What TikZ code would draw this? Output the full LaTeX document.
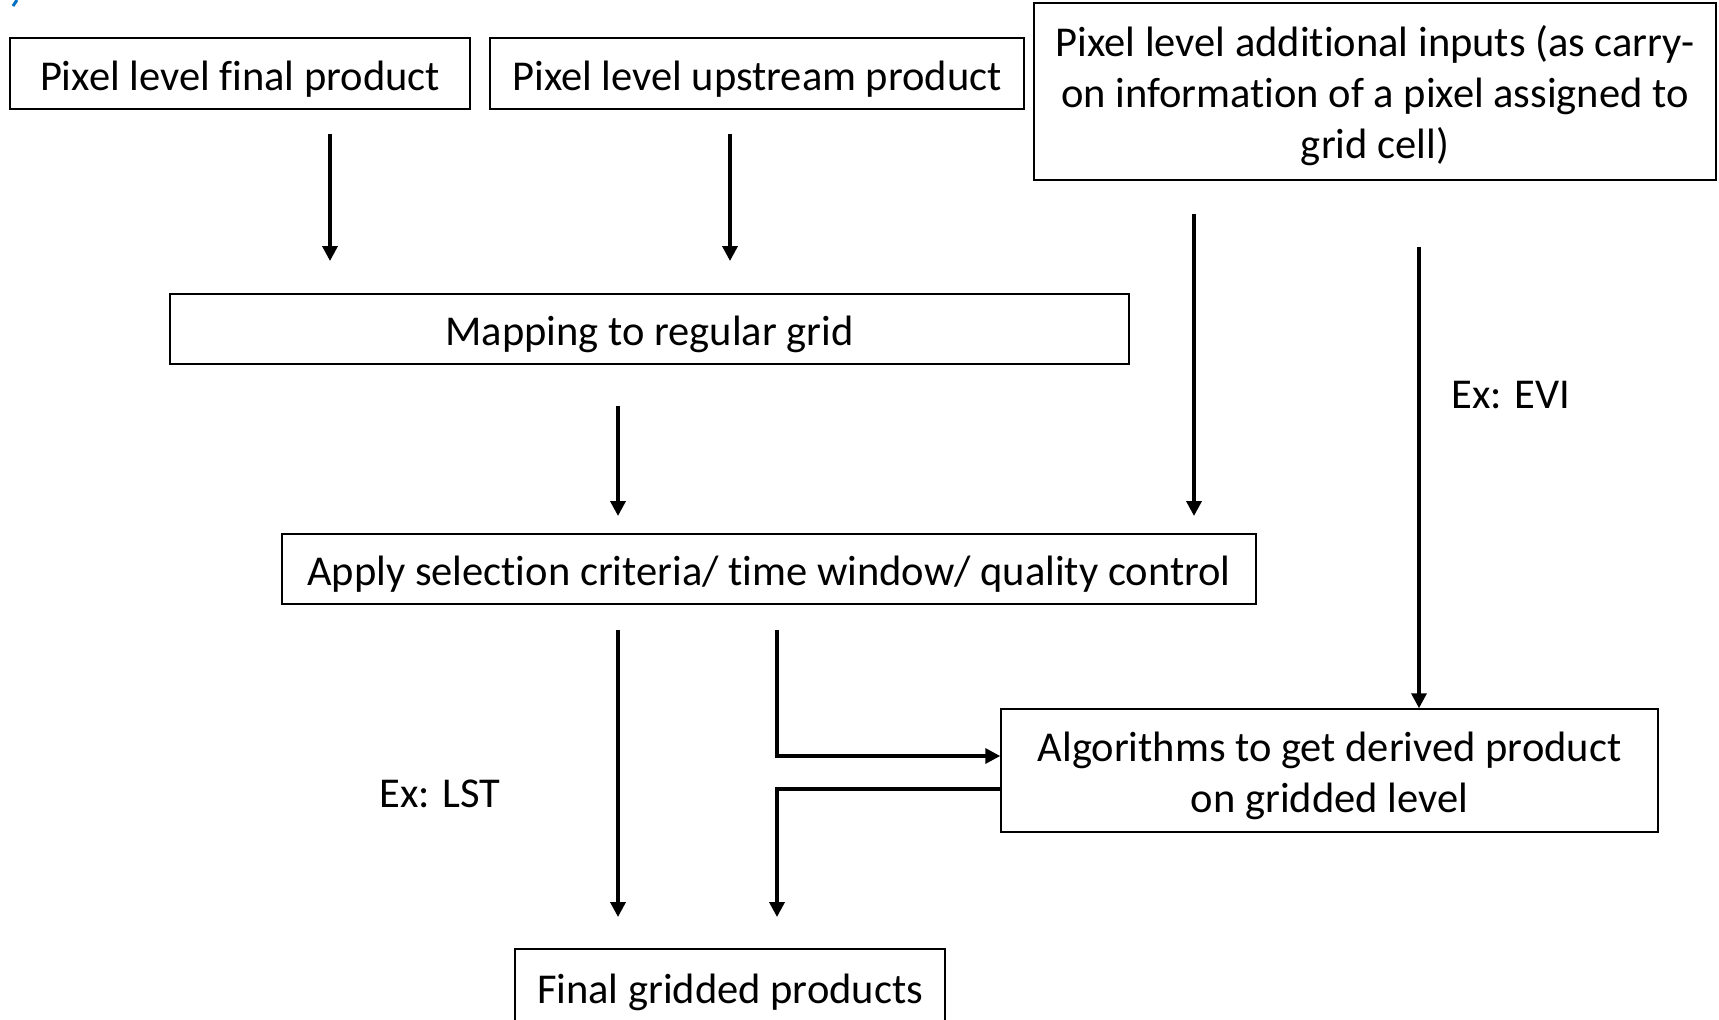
\documentclass[tikz,border=0pt]{standalone}
\usepackage{fontspec}
\setmainfont{Carlito}[Ligatures=NoCommon]
\usetikzlibrary{arrows.meta}
\definecolor{markblue}{RGB}{0,112,192}
\newcommand{\toppad}{\rule{0pt}{40pt}}
\begin{document}
\begin{tikzpicture}[x=1pt,y=-1pt,
  box/.style={draw, line width=1.5pt, inner sep=0pt, align=center,
              font=\fontsize{42.5}{51}\selectfont,
              execute at begin node={\rule{0pt}{40pt}}},
  flow/.style={line width=3.5pt, -{Triangle[length=15pt,width=15pt]}},
  lbl/.style={inner sep=0pt, font=\fontsize{42.5}{51}\selectfont}]
\clip (0,0) rectangle (1719,1020);
\fill[white] (0,0) rectangle (1719,1020);

% fragment of a heading above the chart
\draw[markblue, line width=3pt] (17,0) -- (13,6);

% boxes
\node[box, minimum width=460pt, minimum height=71pt] (fin) at (240,73.5) {Pixel level final product};
\node[box, minimum width=534pt, minimum height=71pt] (up) at (757,73.5) {Pixel level upstream product};
\node[box, minimum width=682pt, minimum height=177pt] (add) at (1375,91.5)
  {\toppad Pixel level additional inputs (as carry-\\on information of a pixel assigned to\\grid cell)};
\node[box, minimum width=959pt, minimum height=70pt] (map) at (649.5,329) {Mapping to regular grid};
\node[box, minimum width=974pt, minimum height=70pt] (sel) at (769,569) {Apply selection criteria/ time window/ quality control};
\node[box, minimum width=657pt, minimum height=123pt] (alg) at (1329.5,770.5)
  {\toppad Algorithms to get derived product\\on gridded level};
\node[box, minimum width=430pt, minimum height=76pt] (grid) at (730,987) {Final gridded products};

% labels
\node[lbl] (evi) at (1511,395) {Ex: EVI};
\node[lbl] (lst) at (440,794) {Ex: LST};

% arrow end points
\coordinate (s1) at (330,134);  \coordinate (t1) at (330,261);
\coordinate (s2) at (730,134);  \coordinate (t2) at (730,261);
\coordinate (s3) at (618,406);  \coordinate (t3) at (618,516);
\coordinate (s4) at (1194,214); \coordinate (t4) at (1194,516);
\coordinate (s5) at (1419,247);
\coordinate (s6) at (618,630);  \coordinate (t6) at (618,917);
\coordinate (s7) at (777,630);
\coordinate (t8) at (777,917);

% connectors
\draw[flow] (s1) -- (t1);
\draw[flow] (s2) -- (t2);
\draw[flow] (s3) -- (t3);
\draw[flow] (s4) -- (t4);
\draw[flow] (s5) -- (s5 |- alg.north);
\draw[flow] (s6) -- (t6);
\draw[flow] (s7) |- ([yshift=14.5pt]alg.west);
\draw[flow] ([yshift=-18.5pt]alg.west) -| (t8);
\end{tikzpicture}
\end{document}
